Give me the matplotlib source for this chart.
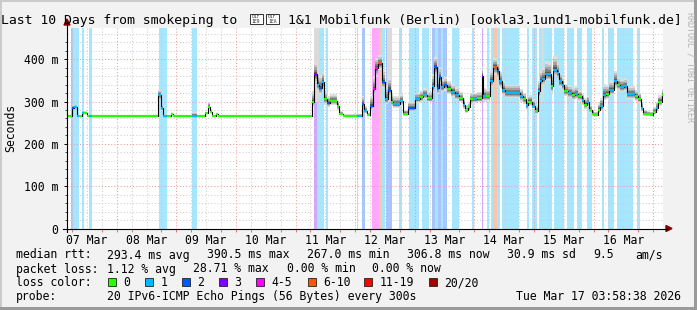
import matplotlib
matplotlib.use("Agg")
import matplotlib.pyplot as plt
from matplotlib.patches import Rectangle, Polygon
from matplotlib.lines import Line2D
from matplotlib.transforms import Affine2D
from matplotlib.colors import to_rgb

# ---------------- data (hours since start of the 10-day window, ms) ----------------
seg_start_h = [0.0, 1.9, 2.8, 4.0, 4.8, 6.0, 6.8, 7.9, 8.9, 9.9,
               36.8, 37.9, 38.5, 40.1, 41.9, 42.8, 50.2, 52.3, 55.7, 56.7,
               57.7, 58.3, 60.0, 60.8,
               98.8, 99.6, 100.6, 101.5, 102.6, 103.5, 104.6, 105.9, 108.6, 109.5,
               111.3, 116.7, 118.9, 119.7, 120.8, 122.0, 123.1, 124.0, 125.1, 126.9,
               128.0, 129.1, 130.5, 131.4, 134.1, 135.4, 137.4, 140.1, 142.1, 143.5,
               144.8, 146.8, 147.8, 148.8, 149.8, 150.8, 151.8, 153.1, 154.5, 156.2,
               158.0, 159.3, 160.3, 161.6, 162.3, 163.4, 165.0, 167.0, 167.6, 168.7,
               170.3, 171.4, 173.0, 173.8, 175.0, 176.4, 182.4, 183.7, 184.8, 185.8,
               187.1, 188.5, 189.5, 190.5, 191.4, 192.5, 193.6, 194.9, 195.8, 197.2,
               198.1, 199.2, 200.3, 201.8, 203.2, 204.6, 205.9, 207.3, 208.2, 209.3,
               210.3, 211.3, 212.3, 213.7, 214.6, 216.0, 216.9, 218.3, 220.4, 221.4,
               222.7, 224.1, 225.4, 228.8, 230.1, 231.1, 232.1, 233.4, 234.8, 236.1,
               237.0, 238.1, 239.5]
window_end_h = 240.0

median_ms = [267, 285, 287, 267, 267, 274, 273, 267, 267, 267,
             315, 284, 267, 267, 270, 267, 267, 267, 272, 288,
             276, 267, 270, 267,
             299, 364, 340, 332, 346, 305, 297, 302, 289, 271,
             267, 267, 294, 278, 268, 289, 330, 379, 390, 346,
             306, 328, 300, 294, 302, 271, 285, 306, 310, 316,
             308, 336, 381, 332, 357, 334, 338, 330, 323, 316,
             308, 293, 279, 286, 305, 306, 308, 361, 312, 312,
             349, 382, 373, 348, 328, 320, 312, 305, 291, 300,
             290, 277, 324, 349, 354, 365, 364, 336, 375, 368,
             348, 338, 324, 320, 316, 318, 312, 303, 293, 299,
             281, 271, 268, 281, 289, 316, 318, 328, 348, 338,
             334, 336, 318, 312, 306, 285, 271, 270, 268, 275,
             285, 300, 315]

# loss class index: 0 -> "0", 1 -> "1", 2 -> "2", 3 -> "3", 4 -> "4-5", 5 -> "6-10"
loss_cls = [0, 2, 1, 1, 0, 1, 0, 0, 1, 0,
            1, 1, 1, 0, 0, 0, 1, 0, 0, 0,
            0, 0, 0, 0,
            0, 3, 1, 2, 1, 0, 2, 0, 0, 0,
            0, 1, 2, 1, 0, 2, 4, 4, 5, 2,
            1, 2, 0, 1, 1, 0, 2, 1, 0, 1,
            0, 1, 2, 2, 2, 1, 2, 0, 1, 1,
            0, 1, 0, 0, 0, 1, 0, 3, 1, 0,
            1, 5, 2, 1, 1, 1, 1, 0, 1, 0,
            1, 0, 1, 1, 1, 1, 1, 0, 1, 1,
            1, 1, 0, 1, 0, 1, 0, 1, 0, 1,
            0, 0, 0, 0, 1, 1, 0, 1, 1, 0,
            1, 1, 1, 0, 0, 1, 0, 0, 0, 0,
            1, 0, 0]

smoke_dn_ms = [1, 3, 3, 1, 1, 2, 2, 1, 1, 1,
               10, 6, 1, 1, 1, 1, 1, 1, 2, 6,
               3, 1, 1, 1,
               10, 20, 15, 15, 15, 12, 10, 10, 8, 3,
               1, 1, 8, 6, 2, 8, 15, 20, 15, 15,
               12, 15, 10, 10, 10, 4, 8, 10, 10, 10,
               10, 15, 20, 15, 15, 12, 12, 12, 12, 12,
               10, 10, 6, 8, 10, 10, 10, 20, 12, 12,
               15, 20, 20, 15, 12, 12, 12, 10, 10, 10,
               8, 6, 15, 15, 15, 15, 15, 15, 15, 15,
               15, 12, 12, 12, 12, 12, 12, 10, 10, 10,
               8, 4, 2, 8, 10, 12, 12, 12, 15, 12,
               12, 12, 12, 10, 10, 8, 4, 3, 2, 5,
               8, 10, 10]

smoke_up_ms = [2, 6, 6, 2, 1, 4, 4, 1, 1, 1,
               12, 8, 3, 1, 2, 1, 8, 1, 4, 12,
               6, 1, 2, 1,
               25, 30, 30, 30, 25, 18, 15, 15, 12, 6,
               3, 4, 20, 12, 5, 25, 30, 25, 20, 30,
               30, 30, 20, 18, 15, 10, 15, 15, 15, 15,
               15, 30, 25, 25, 25, 20, 20, 18, 18, 18,
               15, 15, 12, 12, 15, 15, 15, 20, 20, 18,
               25, 20, 20, 22, 20, 20, 18, 15, 15, 15,
               15, 12, 25, 25, 25, 30, 30, 25, 33, 25,
               20, 20, 18, 18, 18, 18, 15, 15, 15, 15,
               12, 10, 8, 15, 20, 25, 20, 20, 25, 20,
               20, 20, 18, 15, 15, 15, 10, 8, 8, 12,
               15, 15, 15]

# outlier pings far above the chart (light grey smoke up to the top)
spike_start_h = [99.6, 128.9, 190.9]
spike_end_h = [101.5, 130.9, 191.9]

# loss background bars
bar_start_h = [1.6, 2.5, 6.0, 8.9, 37.0, 50.2,
               99.3, 100.6, 104.2, 116.7, 118.7,
               122.7, 125.7, 126.7, 128.5, 133.8,
               137.8, 143.0, 146.8, 148.2, 149.4,
               150.6, 151.4, 154.9, 163.0, 167.0,
               169.0, 170.9, 171.6, 173.0, 175.2,
               185.1, 187.1, 190.2, 196.1, 201.2,
               205.4, 209.4, 215.3, 218.0, 221.5,
               229.7]
bar_end_h = [2.5, 4.8, 6.8, 9.9, 40.1, 52.3,
             100.6, 103.5, 105.3, 117.3, 120.0,
             125.7, 126.7, 128.0, 130.8, 134.8,
             141.7, 145.8, 148.2, 149.4, 150.6,
             151.4, 152.9, 158.0, 163.9, 167.6,
             169.9, 171.6, 173.0, 174.3, 182.1,
             186.2, 189.1, 195.3, 200.3, 204.0,
             207.3, 211.3, 216.2, 220.3, 227.8,
             230.9]
bar_cls = [2, 1, 1, 1, 1, 1,
           3, 1, 1, 1, 2,
           4, 5, 1, 2, 1,
           1, 1, 2, 1, 2,
           1, 2, 1, 1, 3,
           1, 1, 5, 1, 1,
           1, 1, 1, 1, 1,
           1, 1, 1, 1, 1,
           1]

loss_labels = ["0", "1", "2", "3", "4-5", "6-10", "11-19", "20/20"]
loss_colors = ["#26ff00", "#00b8ff", "#0059ff", "#7e00ff", "#ff00ff", "#ff5500", "#ff0000", "#a10000"]

day_labels = ["07 Mar", "08 Mar", "09 Mar", "10 Mar", "11 Mar",
              "12 Mar", "13 Mar", "14 Mar", "15 Mar", "16 Mar"]
y_ticks = [0, 100, 200, 300, 400]
y_tick_labels = ["0", "100 m", "200 m", "300 m", "400 m"]

title_head = "Last 10 Days from smokeping to"
title_flag_codes = ["01F\n1E9", "01F\n1EA"]   # flag glyphs (no installed font) drawn as code boxes
title_tail = "1&1 Mobilfunk (Berlin) [ookla3.1und1-mobilfunk.de]"
stats_rtt = ["293.4 ms avg", "390.5 ms max", "267.0 ms min", "306.8 ms now", "30.9 ms sd", "9.5", "am/s"]
stats_loss = ["1.12 % avg", "28.71 % max", "0.00 % min", "0.00 % now"]
probe_text = "20 IPv6-ICMP Echo Pings (56 Bytes) every 300s"
stamp_text = "Tue Mar 17 03:58:38 2026"

start_offset_h = 3.0 + 58 / 60 + 38 / 3600   # window starts 07 Mar 03:58:38

# ---------------- figure ----------------
W, H = 697, 310
MONO = "DejaVu Sans Mono"
plt.rcParams["font.family"] = [MONO, "DejaVu Sans"]
fig = plt.figure(figsize=(W / 100, H / 100), dpi=100, facecolor="#f2f2f2")
PX = Affine2D().scale(1, -1).translate(0, H)

L, R, T, B = 67, 663, 27.5, 228.5
ax = fig.add_axes([L / W, 1 - B / H, (R - L) / W, (B - T) / H])
ax.set_facecolor("white")
YMAX = 475
ax.set_xlim(0, window_end_h)
ax.set_ylim(0, YMAX)
for s in ax.spines.values():
    s.set_visible(False)


def light(c, a=0.35):
    r, g, b = to_rgb(c)
    return (1 - a + a * r, 1 - a + a * g, 1 - a + a * b)


# loss bars
for s, e, c in zip(bar_start_h, bar_end_h, bar_cls):
    ax.axvspan(s, e, color=light(loss_colors[c]), lw=0, zorder=1)

# grid
h6 = [(6 - start_offset_h) + 6 * k for k in range(40)]
for t in h6:
    if 0 < t < window_end_h:
        is_mid = abs(((t + start_offset_h) % 24)) < 1e-6
        ax.axvline(t, color="#f09a9a" if is_mid else "#cfcfcf", lw=0.75,
                   ls=(0, (1, 2)), zorder=2)
for v in range(20, YMAX, 20):
    ax.axhline(v, color="#f09a9a" if v % 100 == 0 else "#cfcfcf", lw=0.75,
               ls=(0, (1, 2)), zorder=2)

# smoke
edges = seg_start_h + [window_end_h]
for s, e in zip(spike_start_h, spike_end_h):
    ax.fill_between([s, e], [300, 300], [YMAX + 10, YMAX + 10], color="#dadada", lw=0, zorder=2.4)

layers = [(1.0, "#dedede"), (0.78, "#c4c4c4"), (0.56, "#a2a2a2"), (0.36, "#7e7e7e"), (0.18, "#555555")]
for f, col in layers:
    lo = [m - f * d for m, d in zip(median_ms, smoke_dn_ms)]
    hi = [m + f * u for m, u in zip(median_ms, smoke_up_ms)]
    ax.fill_between(edges, lo + [lo[-1]], hi + [hi[-1]], step="post", color=col, lw=0, zorder=2.5)

# median line
ax.step(edges, median_ms + [median_ms[-1]], where="post", color="black", lw=0.8, zorder=4)
ax.hlines(median_ms, seg_start_h, edges[1:], colors=[loss_colors[c] for c in loss_cls],
          lw=1.6, zorder=5)

# ticks
ax.set_yticks(y_ticks)
ax.set_yticklabels(y_tick_labels)
ax.set_yticks(list(range(20, 460, 20)), minor=True)
ax.tick_params(axis="y", which="major", length=2.5, width=0.7, pad=3.6, labelsize=8.3, direction="out")
ax.tick_params(axis="y", which="minor", length=1.2, width=0.5, direction="out")
noon = [(12 - start_offset_h) + 24 * k for k in range(len(day_labels))]
ax.set_xticks(noon)
ax.set_xticklabels(day_labels)
ax.set_xticks([t for t in h6 if 0 < t < window_end_h], minor=True)
ax.tick_params(axis="x", which="major", length=0, pad=4.3, labelsize=8.3)
ax.tick_params(axis="x", which="minor", length=2.2, width=0.6, direction="out", color="#e06060")

# axes with arrows (pixel coordinates)
fig.add_artist(Line2D([63, 667], [228.5, 228.5], color="black", lw=0.8, transform=PX))
fig.add_artist(Line2D([67, 67], [232, 22], color="black", lw=0.8, transform=PX))
fig.add_artist(Polygon([[666, 225.5], [666, 231.5], [672, 228.5]], closed=True, color="#7f0000", transform=PX))
fig.add_artist(Polygon([[64, 25], [70, 25], [67, 19]], closed=True, color="#7f0000", transform=PX))

# frame shading
fig.add_artist(Rectangle((0, 0), W, 2, color="#cbcbcb", lw=0, transform=PX))
fig.add_artist(Rectangle((0, 0), 2, H, color="#cbcbcb", lw=0, transform=PX))
fig.add_artist(Rectangle((0, H - 3), W, 3, color="#9a9a9a", lw=0, transform=PX))
fig.add_artist(Rectangle((W - 3, 0), 3, H, color="#9a9a9a", lw=0, transform=PX))

# texts
fs = 8.3
tfs = 9.45
fig.text(1, 24, title_head, transform=PX, fontsize=tfs, ha="left", va="baseline")
for code, bx in zip(title_flag_codes, [249.5, 266.0]):
    fig.add_artist(Rectangle((bx, 13.5), 13, 10.5, facecolor="white", edgecolor="#333333",
                             lw=0.7, transform=PX))
    fig.text(bx + 6.5, 18.9, code, transform=PX, fontsize=3.4, ha="center", va="center",
             linespacing=1.0, color="#333333")
fig.text(288, 24, title_tail, transform=PX, fontsize=tfs, ha="left", va="baseline")
fig.text(690, 12, "RRDTOOL / TOBI OETIKER", transform=PX, fontsize=6.0, rotation=270,
         ha="center", va="top", color="#b4b4b4")
fig.text(10.8, 128, "Seconds", transform=PX, fontsize=fs, rotation=90, ha="center", va="center")

fig.text(15.6, 258.5, "median rtt:", transform=PX, fontsize=fs, va="baseline")
for s, x in zip(stats_rtt, [106.7, 206.7, 306.7, 406.7, 506.7, 593.3, 635.6]):
    fig.text(x, 258.5, s, transform=PX, fontsize=fs, va="baseline")
fig.text(15.6, 272.5, "packet loss:", transform=PX, fontsize=fs, va="baseline")
for s, x in zip(stats_loss, [107.0, 193.3, 286.7, 372.4]):
    fig.text(x, 272.5, s, transform=PX, fontsize=fs, va="baseline")
fig.text(15.6, 286.2, "loss color:", transform=PX, fontsize=fs, va="baseline")
box_x = [108.0, 145.3, 182.0, 219.0, 256.4, 307.6, 364.4, 429.0]
for lab, col, bx in zip(loss_labels, loss_colors, box_x):
    fig.add_artist(Rectangle((bx, 278.2), 8, 8, facecolor=col, edgecolor="#222222", lw=0.6, transform=PX))
    fig.text(bx + 15.5, 286.2, lab, transform=PX, fontsize=fs, va="baseline")
fig.text(15.6, 300.3, "probe:", transform=PX, fontsize=fs, va="baseline")
fig.text(106.7, 300.3, probe_text, transform=PX, fontsize=fs, va="baseline")
fig.text(681, 300.3, stamp_text, transform=PX, fontsize=fs, va="baseline", ha="right")

fig.savefig("out.png", dpi=100, facecolor=fig.get_facecolor())
